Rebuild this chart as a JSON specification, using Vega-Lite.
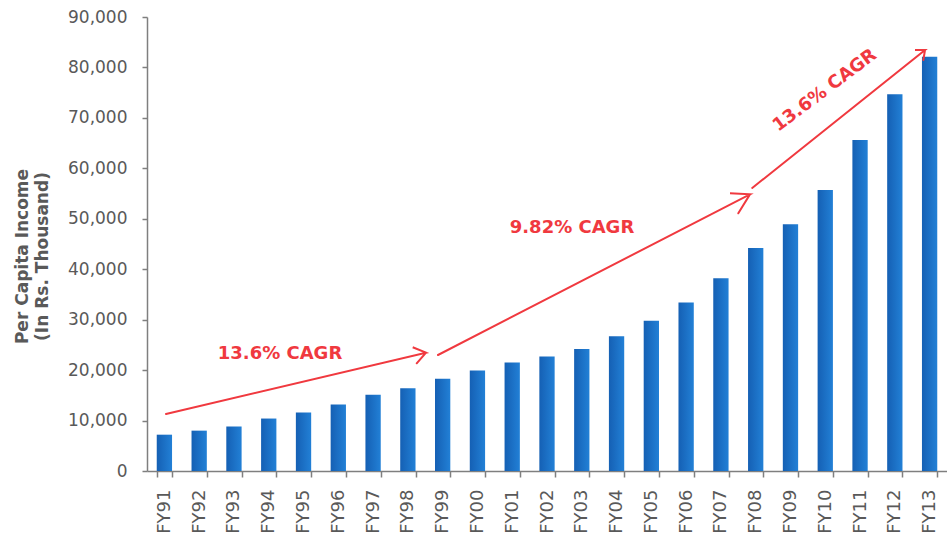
{
  "$schema": "https://vega.github.io/schema/vega-lite/v6.json",
  "width": 800,
  "height": 454,
  "autosize": "none",
  "padding": {"left": 147, "top": 17, "right": 0, "bottom": 67},
  "background": "white",
  "config": {"view": {"stroke": null}, "font": "DejaVu Sans"},
  "datasets": {
    "income": [
      {"year": "FY91", "value": 7200},
      {"year": "FY92", "value": 8000},
      {"year": "FY93", "value": 8800},
      {"year": "FY94", "value": 10400},
      {"year": "FY95", "value": 11600},
      {"year": "FY96", "value": 13200},
      {"year": "FY97", "value": 15100},
      {"year": "FY98", "value": 16400},
      {"year": "FY99", "value": 18300},
      {"year": "FY00", "value": 19900},
      {"year": "FY01", "value": 21500},
      {"year": "FY02", "value": 22700},
      {"year": "FY03", "value": 24200},
      {"year": "FY04", "value": 26700},
      {"year": "FY05", "value": 29800},
      {"year": "FY06", "value": 33400},
      {"year": "FY07", "value": 38200},
      {"year": "FY08", "value": 44200},
      {"year": "FY09", "value": 48900},
      {"year": "FY10", "value": 55700},
      {"year": "FY11", "value": 65600},
      {"year": "FY12", "value": 74700},
      {"year": "FY13", "value": 82100}
    ],
    "arrows": [
      {"arrow": 1, "seq": 1, "u": 0.546, "value": 11300},
      {"arrow": 1, "seq": 2, "u": 8.021, "value": 23452},
      {"arrow": 1, "seq": 3, "u": 7.639, "value": 24522},
      {"arrow": 1, "seq": 4, "u": 8.021, "value": 23452},
      {"arrow": 1, "seq": 5, "u": 7.754, "value": 21351},
      {"arrow": 2, "seq": 1, "u": 8.366, "value": 22996},
      {"arrow": 2, "seq": 2, "u": 17.336, "value": 54853},
      {"arrow": 2, "seq": 3, "u": 16.761, "value": 55051},
      {"arrow": 2, "seq": 4, "u": 17.336, "value": 54853},
      {"arrow": 2, "seq": 5, "u": 17.0, "value": 51087},
      {"arrow": 3, "seq": 1, "u": 17.4, "value": 56102},
      {"arrow": 3, "seq": 2, "u": 22.368, "value": 83459},
      {"arrow": 3, "seq": 3, "u": 22.08, "value": 83459},
      {"arrow": 3, "seq": 4, "u": 22.368, "value": 83459},
      {"arrow": 3, "seq": 5, "u": 22.32, "value": 81477}
    ],
    "flatLabels": [
      {"label": "13.6% CAGR", "u": 3.824, "value": 23194},
      {"label": "9.82% CAGR", "u": 12.219, "value": 48172}
    ],
    "tiltLabels": [
      {"label": "13.6% CAGR", "u": 19.49, "value": 75400}
    ]
  },
  "layer": [
    {
      "data": {"name": "income"},
      "mark": {
        "type": "bar",
        "color": {
          "gradient": "linear",
          "x1": 0, "x2": 1, "y1": 0, "y2": 0,
          "stops": [
            {"offset": 0, "color": "#1560B4"},
            {"offset": 1, "color": "#2280D6"}
          ]
        }
      },
      "encoding": {
        "x": {
          "field": "year",
          "type": "ordinal",
          "sort": null,
          "scale": {"paddingInner": 0.56, "paddingOuter": 0.28},
          "axis": {
            "title": null,
            "labelAngle": -90,
            "labelAlign": "right",
            "labelBaseline": "middle",
            "labelFontSize": 18,
            "labelColor": "#595959",
            "labelPadding": 12,
            "tickBand": "extent",
            "tickSize": 6,
            "tickColor": "#7f7f7f",
            "tickWidth": 1.5,
            "domainColor": "#7f7f7f",
            "domainWidth": 1.5
          }
        },
        "y": {
          "field": "value",
          "type": "quantitative",
          "scale": {"domain": [0, 90000]},
          "axis": {
            "title": ["Per Capita Income", "(In Rs. Thousand)"],
            "titleFontSize": 17,
            "titleFontWeight": "bold",
            "titleColor": "#595959",
            "titleLineHeight": 20,
            "titlePadding": 16,
            "titleY": 239,
            "values": [0, 10000, 20000, 30000, 40000, 50000, 60000, 70000, 80000, 90000],
            "format": ",.0f",
            "labelFontSize": 17,
            "labelColor": "#595959",
            "labelPadding": 15,
            "tickSize": 5,
            "tickColor": "#7f7f7f",
            "tickWidth": 1.5,
            "domainColor": "#7f7f7f",
            "domainWidth": 1.5,
            "grid": false
          }
        }
      }
    },
    {
      "data": {"name": "arrows"},
      "mark": {"type": "line", "color": "#F0393F", "strokeWidth": 2, "strokeCap": "round", "strokeJoin": "miter"},
      "encoding": {
        "x": {"field": "u", "type": "quantitative", "scale": {"domain": [0, 23], "nice": false, "zero": false}, "axis": null},
        "y": {"field": "value", "type": "quantitative"},
        "detail": {"field": "arrow"},
        "order": {"field": "seq", "type": "quantitative"}
      }
    },
    {
      "data": {"name": "flatLabels"},
      "mark": {"type": "text", "color": "#F0393F", "fontSize": 18, "fontWeight": "bold", "align": "center", "baseline": "middle"},
      "encoding": {
        "x": {"field": "u", "type": "quantitative", "scale": {"domain": [0, 23], "nice": false, "zero": false}, "axis": null},
        "y": {"field": "value", "type": "quantitative"},
        "text": {"field": "label"}
      }
    },
    {
      "data": {"name": "tiltLabels"},
      "mark": {"type": "text", "color": "#F0393F", "fontSize": 18, "fontWeight": "bold", "align": "center", "baseline": "middle", "angle": -37},
      "encoding": {
        "x": {"field": "u", "type": "quantitative", "scale": {"domain": [0, 23], "nice": false, "zero": false}, "axis": null},
        "y": {"field": "value", "type": "quantitative"},
        "text": {"field": "label"}
      }
    }
  ],
  "resolve": {"scale": {"x": "independent"}}
}
